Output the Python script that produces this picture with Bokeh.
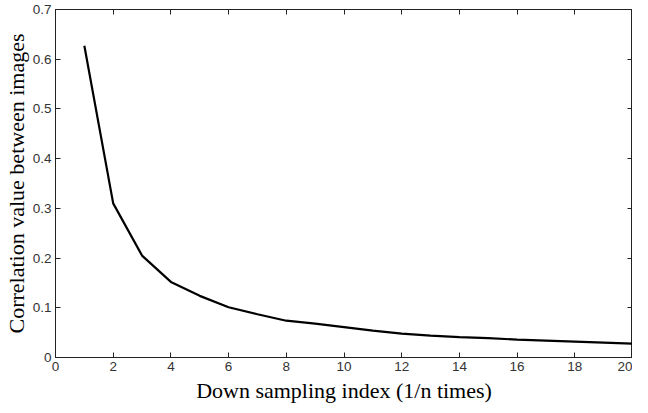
from bokeh.plotting import figure
from bokeh.models import LinearAxis, Range1d, FixedTicker
from bokeh.embed import file_html
from bokeh.resources import INLINE

n_index = list(range(1, 21))
correlation = [0.627, 0.31, 0.205, 0.152, 0.124, 0.101, 0.087, 0.074, 0.068, 0.061,
               0.054, 0.048, 0.044, 0.041, 0.039, 0.036, 0.034, 0.032, 0.030, 0.028]
x_ticks = [0, 2, 4, 6, 8, 10, 12, 14, 16, 18, 20]
y_ticks = [0, 0.1, 0.2, 0.3, 0.4, 0.5, 0.6, 0.7]

p = figure(width=632, height=405, output_backend="svg", toolbar_location=None,
           x_range=Range1d(0, 20), y_range=Range1d(0, 0.7),
           min_border_left=48, min_border_right=0, min_border_top=9, min_border_bottom=46)
p.grid.visible = False
p.outline_line_color = "#222222"
p.outline_line_width = 1
p.background_fill_color = "white"
p.border_fill_color = "white"

p.line(n_index, correlation, line_color="black", line_width=2.2)

def style(ax, ticks, labels=True):
    ax.ticker = FixedTicker(ticks=ticks)
    ax.major_tick_in = 5
    ax.major_tick_out = 0
    ax.minor_tick_in = 0
    ax.minor_tick_out = 0
    ax.axis_line_color = "#222222"
    ax.major_tick_line_color = "#222222"
    if labels:
        ax.major_label_text_font = "Liberation Sans"
        ax.major_label_text_font_size = "13.5px"
        ax.major_label_text_color = "#333333"
        ax.major_label_standoff = 4
        ax.axis_label_text_font = "Liberation Serif"
        ax.axis_label_text_font_size = "22px"
        ax.axis_label_text_font_style = "normal"
        ax.axis_label_text_color = "black"
    else:
        ax.major_label_text_font_size = "1px"
        ax.major_label_text_color = None
        ax.major_label_standoff = 0

style(p.xaxis[0], x_ticks)
style(p.yaxis[0], y_ticks)
p.xaxis[0].axis_label = "Down sampling index (1/n times)"
p.xaxis[0].axis_label_standoff = 4
p.yaxis[0].axis_label = "Correlation value between images"
p.yaxis[0].axis_label_standoff = 1
p.yaxis[0].major_label_orientation = "horizontal"

top = LinearAxis()
style(top, x_ticks, labels=False)
p.add_layout(top, "above")
right = LinearAxis()
style(right, y_ticks, labels=False)
p.add_layout(right, "right")

open("out.html", "w").write(file_html(p, INLINE))
